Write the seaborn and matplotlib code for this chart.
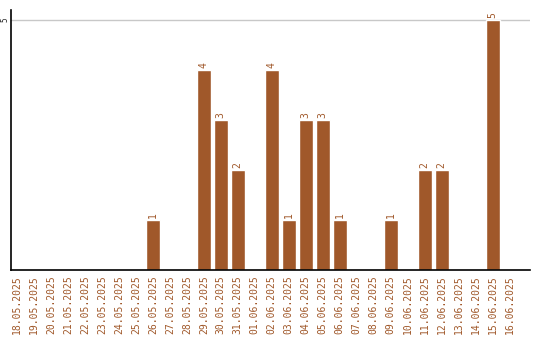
import matplotlib
matplotlib.use("Agg")
import matplotlib.pyplot as plt
import seaborn as sns
import pandas as pd

dates = ["18.05.2025", "19.05.2025", "20.05.2025", "21.05.2025", "22.05.2025",
         "23.05.2025", "24.05.2025", "25.05.2025", "26.05.2025", "27.05.2025",
         "28.05.2025", "29.05.2025", "30.05.2025", "31.05.2025", "01.06.2025",
         "02.06.2025", "03.06.2025", "04.06.2025", "05.06.2025", "06.06.2025",
         "07.06.2025", "08.06.2025", "09.06.2025", "10.06.2025", "11.06.2025",
         "12.06.2025", "13.06.2025", "14.06.2025", "15.06.2025", "16.06.2025"]
values = [0, 0, 0, 0, 0, 0, 0, 0, 1, 0,
          0, 4, 3, 2, 0, 4, 1, 3, 3, 1,
          0, 0, 1, 0, 2, 2, 0, 0, 5, 0]

color = "#A0582A"
df = pd.DataFrame({"date": dates, "value": values})

sns.set_style("white")
plt.rcParams["font.family"] = ["DejaVu Sans Mono"]

fig = plt.figure(figsize=(5.4, 3.4), dpi=100)
ax = fig.add_axes([11/540, 1 - 270/340, (530 - 11)/540, 260/340])

sns.barplot(data=df, x="date", y="value", color=color, width=0.82,
            saturation=1, ax=ax, order=dates)

for i, v in enumerate(values):
    if v > 0:
        ax.text(i, v + 0.03, str(v), rotation=90, ha="center", va="bottom",
                fontsize=7, color=color)

ax.set_xlim(-0.35, 30.2)
ax.set_ylim(0, 5.2)
ax.set_yticks([5])
ax.set_yticklabels(["5"], rotation=90, va="center", ha="right", fontsize=5.5)
ax.yaxis.grid(True, color="#c8c8c8", linewidth=1)
ax.set_axisbelow(True)
ax.tick_params(axis="y", length=0, pad=1)
ax.tick_params(axis="x", length=0, pad=4, labelsize=7, labelcolor=color)
plt.setp(ax.get_xticklabels(), rotation=90)
ax.set_xlabel("")
ax.set_ylabel("")
for s in ["top", "right"]:
    ax.spines[s].set_visible(False)
for s in ["left", "bottom"]:
    ax.spines[s].set_color("black")
    ax.spines[s].set_linewidth(1.2)

fig.savefig("out.png", dpi=100)
